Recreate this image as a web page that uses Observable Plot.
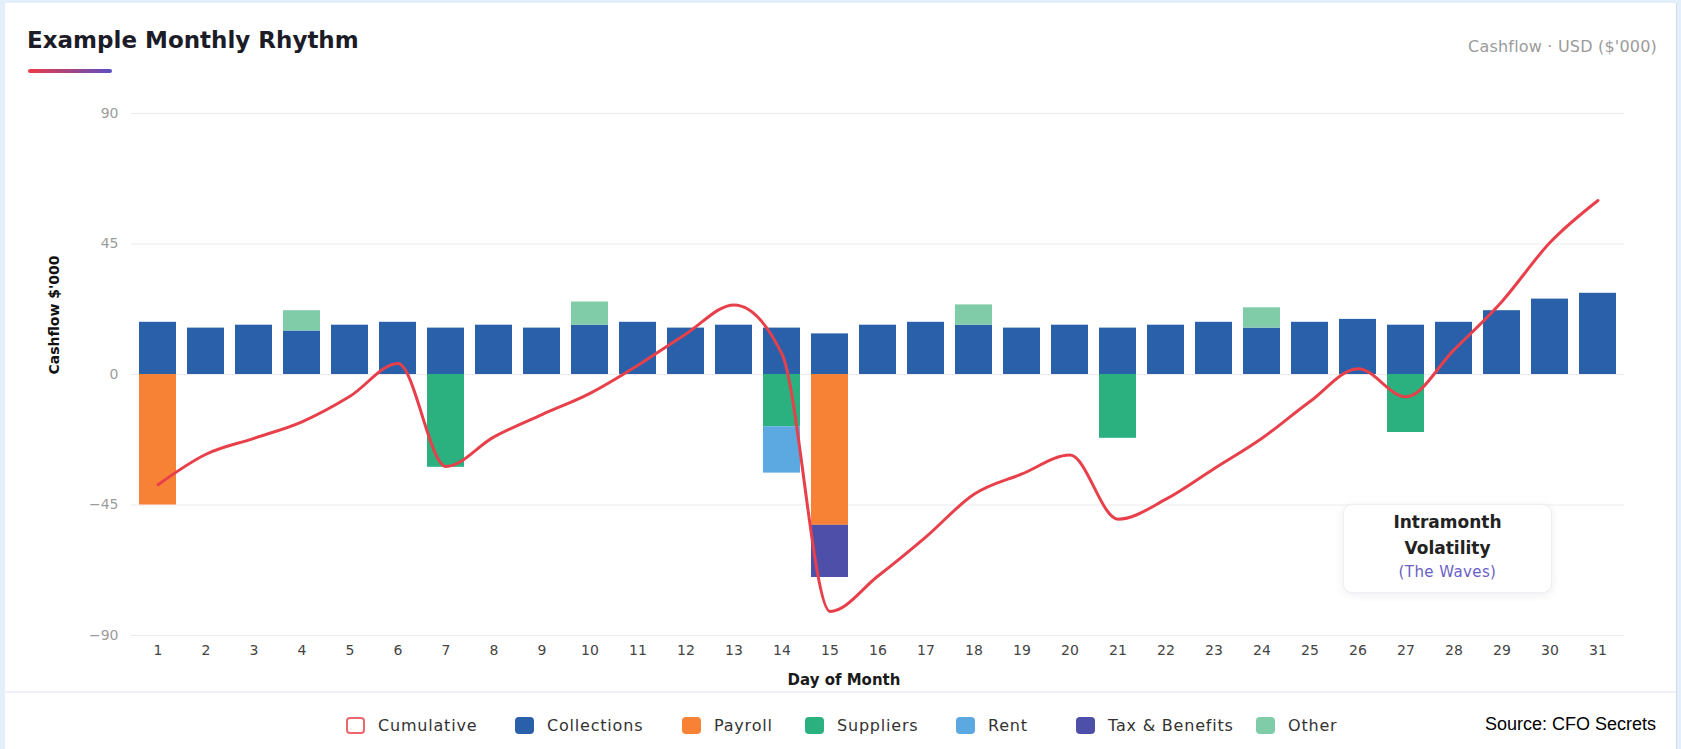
<!DOCTYPE html>
<html>
<head>
<meta charset="utf-8">
<script src="https://cdn.jsdelivr.net/npm/d3@7"></script>
<script src="https://cdn.jsdelivr.net/npm/@observablehq/plot@0.6"></script>
<style>
html,body{margin:0;padding:0;}
body{width:1681px;height:749px;background:#e3f0fb;position:relative;overflow:hidden;font-family:"DejaVu Sans",sans-serif;}
#card{position:absolute;left:5px;top:3px;width:1672px;height:746px;background:#fff;border-right:1px solid #d3dde6;box-sizing:border-box;}
#title{position:absolute;left:27px;top:27px;font-weight:700;font-size:23px;color:#1c1c28;white-space:nowrap;}
#uline{position:absolute;left:28px;top:69px;width:84px;height:4px;border-radius:2px;background:linear-gradient(90deg,#ec3b47,#5a4fc2);}
#unit{position:absolute;right:24px;top:37px;font-size:16px;letter-spacing:0.2px;color:#9b9b9b;white-space:nowrap;}
#chart{position:absolute;left:0;top:0;}
#ylab{position:absolute;left:54px;top:315px;width:0;height:0;}
#ylab span{position:absolute;left:0;top:0;transform:translate(-50%,-50%) rotate(-90deg);font-weight:700;font-size:14px;color:#111;white-space:nowrap;}
#sep{position:absolute;left:5px;width:1671px;top:691px;height:2px;background:#f0f0f6;}
.leg{position:absolute;top:716px;display:flex;align-items:center;font-size:16px;letter-spacing:0.8px;color:#333;white-space:nowrap;height:18px;}
.sw{width:19px;height:17px;border-radius:4px;margin-right:13px;box-sizing:border-box;flex:none;}
#source{position:absolute;right:25px;top:714px;font-family:"Liberation Sans",Arial,sans-serif;font-size:18px;color:#000;white-space:nowrap;}
#note{position:absolute;left:1343px;top:504px;width:209px;height:89px;box-sizing:border-box;background:#fff;border:1px solid #eeeef3;border-radius:9px;box-shadow:0 2px 8px rgba(40,40,80,0.08);text-align:center;}
#note .a{position:absolute;left:0;right:0;font-weight:700;font-size:17px;color:#222;}
#note .b{position:absolute;left:0;right:0;font-size:15px;letter-spacing:0.4px;color:#6b5fc7;}
</style>
</head>
<body>
<div id="card"></div>
<div id="title">Example Monthly Rhythm</div>
<div id="uline"></div>
<div id="unit">Cashflow · USD ($'000)</div>
<div id="chart"></div>
<div id="ylab"><span>Cashflow $'000</span></div>
<div id="sep"></div>
<div id="legend"></div>
<div id="source">Source: CFO Secrets</div>
<div id="note">
  <div class="a" style="top:7px">Intramonth</div>
  <div class="a" style="top:33px">Volatility</div>
  <div class="b" style="top:58px">(The Waves)</div>
</div>
<script>
const days = [1,2,3,4,5,6,7,8,9,10,11,12,13,14,15,16,17,18,19,20,21,22,23,24,25,26,27,28,29,30,31];
const collections = [18,16,17,15,17,18,16,17,16,17,18,16,17,16,14,17,18,17,16,17,16,17,18,16,18,19,17,18,22,26,28];
const payroll     = [-45,0,0,0,0,0,0,0,0,0,0,0,0,0,-52,0,0,0,0,0,0,0,0,0,0,0,0,0,0,0,0];
const suppliers   = [0,0,0,0,0,0,-32,0,0,0,0,0,0,-18,0,0,0,0,0,0,-22,0,0,0,0,0,-20,0,0,0,0];
const rent        = [0,0,0,0,0,0,0,0,0,0,0,0,0,-16,0,0,0,0,0,0,0,0,0,0,0,0,0,0,0,0,0];
const taxBenefits = [0,0,0,0,0,0,0,0,0,0,0,0,0,0,-18,0,0,0,0,0,0,0,0,0,0,0,0,0,0,0,0];
const other       = [0,0,0,7,0,0,0,0,0,8,0,0,0,0,0,0,0,7,0,0,0,0,0,7,0,0,0,0,0,0,0];
const cumulative  = [-38,-27.5,-22,-16.3,-7.5,3.8,-31.7,-21.5,-13.8,-6.5,3.2,14,24,7,-81.7,-69.5,-56,-41.3,-34.3,-27.8,-49.9,-43,-32.5,-22,-9.3,2,-7.7,8.5,25.2,45.5,60];
const yTicks = [-90,-45,0,45,90];

const seriesNames  = ["Collections","Payroll","Suppliers","Rent","Tax & Benefits","Other"];
const seriesValues = [collections,payroll,suppliers,rent,taxBenefits,other];
const seriesColors = ["#2a60a9","#f78235","#2bb07f","#5ca8e0","#4e4fa9","#80cba8"];
const lineColor = "#e8404b";

const rows = [];
days.forEach((d,i) => {
  seriesNames.forEach((s,j) => {
    const v = seriesValues[j][i];
    if (v !== 0) rows.push({day:d, series:s, value:v});
  });
});
const cum = days.map((d,i) => ({day:d, value:cumulative[i]}));

const chart = Plot.plot({
  width: 1681,
  height: 700,
  marginLeft: 131,
  marginRight: 57,
  marginTop: 113,
  marginBottom: 65,
  style: {fontFamily: "DejaVu Sans, sans-serif", fontSize: "13px", background: "transparent", overflow: "visible"},
  x: {type: "band", domain: days, paddingInner: 0.22, paddingOuter: 0.11},
  y: {domain: [-90, 90]},
  color: {domain: seriesNames, range: seriesColors},
  marks: [
    Plot.gridY(yTicks, {stroke: "#ebebf0", strokeOpacity: 1, strokeWidth: 1}),
    Plot.axisY(yTicks, {tickSize: 0, tickPadding: 13, fontSize: 14, color: "#9c9c9c", label: null}),
    Plot.axisX({tickSize: 0, tickPadding: 10, fontSize: 14, color: "#444", label: null}),
    Plot.barY(rows, {x: "day", y: "value", fill: "series"}),
    Plot.line(cum, {x: "day", y: "value", stroke: lineColor, strokeWidth: 3, curve: "monotone-x"}),
    Plot.text(["Day of Month"], {text: d => d, frameAnchor: "bottom", dx: -34, dy: 49, fontWeight: "bold", fontSize: 15, fill: "#1a1a1a"})
  ]
});
document.getElementById("chart").appendChild(chart);

// legend
const legendItems = [{name:"Cumulative", color:lineColor, outline:true}].concat(
  seriesNames.map((n,i) => ({name:n, color:seriesColors[i], outline:false})));
const legendX = [346, 515, 682, 805, 956, 1076, 1256];
const legend = document.getElementById("legend");
legendItems.forEach((it,i) => {
  const el = document.createElement("div");
  el.className = "leg";
  el.style.left = legendX[i] + "px";
  const sw = document.createElement("div");
  sw.className = "sw";
  if (it.outline) { sw.style.border = "2px solid " + it.color; sw.style.opacity = "0.8"; sw.style.background = "#fff"; }
  else sw.style.background = it.color;
  el.appendChild(sw);
  const t = document.createElement("span");
  t.textContent = it.name;
  el.appendChild(t);
  legend.appendChild(el);
});
</script>
</body>
</html>
